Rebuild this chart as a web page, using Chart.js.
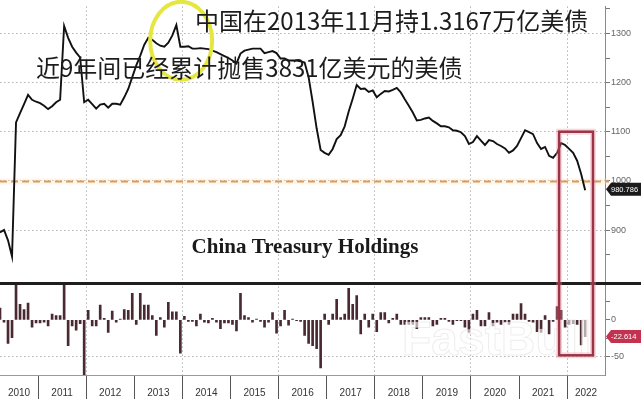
<!DOCTYPE html>
<html><head><meta charset="utf-8">
<script src="https://cdn.jsdelivr.net/npm/chart.js@4/dist/chart.umd.min.js"></script>
<style>html,body{margin:0;padding:0;background:#fff}#wrap{width:641px;height:399px;position:relative;overflow:hidden}canvas{display:block}</style>
</head><body><div id="wrap"><canvas id="c" width="641" height="399"></canvas></div>
<script>
// ---------- data ----------
const yearLabels = ['2010','2011','2012','2013','2014','2015','2016','2017','2018','2019','2020','2021','2022'];
const holdingsTicks = [900, 1000, 1100, 1200, 1300];
const holdingsMinor = [850, 950, 1050, 1150, 1250, 1350];
const changeTicks = [0, -50];
const changeMinor = [-25, 25];
const firstMonth = { year: 2010, month: 3 };
// China holdings of US Treasuries (USD bn), monthly from 2010-03
const holdings = [
  895, 900, 879, 846, 1119, 1138, 1156, 1175, 1165, 1161,
  1158, 1153, 1146, 1152, 1160, 1165, 1315, 1291, 1273, 1261,
  1251, 1160, 1165, 1156, 1147, 1155, 1157, 1149, 1157, 1157,
  1155, 1170, 1187, 1211, 1235, 1255, 1277, 1291, 1287, 1280,
  1275, 1273, 1281, 1296, 1317, 1273, 1273, 1274, 1269, 1269,
  1270, 1269, 1268, 1265, 1262, 1258, 1254, 1250, 1245, 1239,
  1259, 1265, 1267, 1269, 1269, 1269, 1260, 1262, 1264, 1260,
  1249, 1249, 1245, 1245, 1245, 1243, 1241, 1211, 1161, 1107,
  1063, 1057, 1053, 1065, 1085, 1093, 1111, 1141, 1167, 1195,
  1187, 1188, 1181, 1184, 1170, 1177, 1183, 1182, 1185, 1189,
  1180, 1166, 1153, 1139, 1123, 1124, 1127, 1129, 1122, 1117,
  1111, 1111, 1109, 1103, 1102, 1099, 1091, 1075, 1079, 1091,
  1082, 1073, 1083, 1081, 1075, 1071, 1066, 1057, 1062, 1071,
  1087, 1103, 1099, 1095, 1077, 1065, 1069, 1051, 1047, 1057,
  1077, 1073, 1065, 1057, 1041, 1014, 980.786
];
// monthly change bars (USD bn)
const changes = [
  16, -3, -32, -24, 55, 21, 14, 23, -10, -4,
  -4, -3, -8, 8, 6, 6, 55, -35, -8, -14,
  -5, -80, 13, -8, -8, 20, 2, -17, 12, -3,
  1, 14, 13, 36, -6, 36, 20, 20, 6, -21,
  3, -10, 24, 11, 11, -45, 5, -2, -2, -8,
  8, -3, -4, 2, -3, -12, -4, -4, -6, -15,
  36, 6, 3, -3, 1, -2, -10, -3, 10, -18,
  -8, 13, -7, 1, -1, -2, -21, -32, -35, -39,
  -65, 8, -6, 8, 28, 3, 8, 43, 21, 33,
  -19, 8, -10, 8, -16, 10, 10, -4, 2, 8,
  -6, -6, -6, -6, -12, 3, 3, 3, -8, -6,
  2, 2, -2, -6, -1, -1, -10, -17, 8, 13,
  -8, -8, 10, -8, -3, -6, -3, -6, 8, 8,
  22, 8, -2, -3, -16, -17, 6, -19, -2, 18,
  13, -10, -6, -5, -6, -34, -22.614
];
const refLevel = 1000;
const title1 = '中国在2013年11月持1.3167万亿美债';
const title2 = '近9年间已经累计抛售3831亿美元的美债';
const seriesName = 'China Treasury Holdings';
const peakMonth = '2013-11';
const highlightFrom = '2021-11', highlightTo = '2022-06';
const watermark = 'FastBull';

const months = [];
for (let k = 0; k < holdings.length; k++) {
  const m = firstMonth.month - 1 + k;
  months.push((firstMonth.year + Math.floor(m / 12)) + '-' + String(m % 12 + 1).padStart(2, '0'));
}
const baseYear = parseInt(yearLabels[0]);
const idx = (lab) => { const [Y, M] = lab.split('-').map(Number); return (Y - baseYear) * 12 + (M - 1); };

const xMin = 2.0, xMax = 152.95;
const xTicks = [];
yearLabels.forEach((yl, k) => {
  const start = k * 12 - 0.5, end = k * 12 + 11.5;
  if (start >= xMin && start <= xMax) xTicks.push({ value: start, kind: 'b', even: k % 2 === 0, text: '' });
  const a = Math.max(start, xMin), b = Math.min(end, xMax);
  xTicks.push({ value: (a + b) / 2, kind: 'm', text: yl });
});
xTicks.sort((p, q) => p.value - q.value);

const yTickVals = holdingsTicks.concat(holdingsMinor).sort((a, b) => a - b);
const ybTickVals = changeTicks.concat(changeMinor).sort((a, b) => a - b);

const overlay = {
  id: 'overlay',
  beforeDatasetsDraw(chart) {
    const { ctx, scales: { x, y } } = chart;
    const py = Math.round(y.getPixelForValue(refLevel)) + 0.5;
    ctx.save();
    ctx.strokeStyle = 'rgba(252,228,190,0.35)';
    ctx.lineWidth = 6;
    ctx.beginPath(); ctx.moveTo(0, py); ctx.lineTo(x.right + 4, py); ctx.stroke();
    ctx.strokeStyle = '#d99c5c';
    ctx.lineWidth = 2;
    ctx.setLineDash([7, 4]);
    ctx.beginPath(); ctx.moveTo(0, py); ctx.lineTo(x.right + 4, py); ctx.stroke();
    ctx.restore();
  },
  afterDraw(chart) {
    const { ctx, scales: { x, y, yb } } = chart;
    ctx.save();
    // panel separator
    ctx.strokeStyle = '#1e1e1e';
    ctx.lineWidth = 3;
    ctx.beginPath(); ctx.moveTo(0, yb.top + 1); ctx.lineTo(chart.width, yb.top + 1); ctx.stroke();

    // watermark
    ctx.font = 'bold 48px "Liberation Sans"';
    ctx.textBaseline = 'middle'; ctx.textAlign = 'left';
    ctx.fillStyle = 'rgba(255,255,255,0.6)';
    ctx.fillText(watermark, 402, 342);
    ctx.strokeStyle = 'rgba(175,175,175,0.22)'; ctx.lineWidth = 1;
    ctx.strokeText(watermark, 402, 342);

    // red highlight box
    const bx1 = x.getPixelForValue(idx(highlightFrom) - 0.5);
    const bx2 = x.getPixelForValue(idx(highlightTo) + 0.95);
    const by1 = y.getPixelForValue(1100);
    const by2 = yb.getPixelForValue(-48);
    ctx.strokeStyle = 'rgba(240,140,160,0.35)'; ctx.lineWidth = 6;
    ctx.strokeRect(bx1, by1, bx2 - bx1, by2 - by1);
    ctx.strokeStyle = '#9a3446'; ctx.lineWidth = 2.5;
    ctx.strokeRect(bx1, by1, bx2 - bx1, by2 - by1);

    // yellow ellipse around peak
    const pk = holdings[months.indexOf(peakMonth)];
    const ex = x.getPixelForValue(idx(peakMonth) + 1.2), ey = y.getPixelForValue(pk - 32);
    ctx.strokeStyle = '#e6e640'; ctx.lineWidth = 4;
    ctx.beginPath(); ctx.ellipse(ex, ey, 31, 39, 0, 0, Math.PI * 2); ctx.stroke();

    // Chinese titles
    ctx.fillStyle = '#1c1c1c';
    ctx.font = '24px "Noto Sans CJK SC"';
    ctx.textAlign = 'left'; ctx.textBaseline = 'middle';
    ctx.fillText(title1, 195, 21);
    ctx.fillText(title2, 36, 68);

    // series name
    ctx.font = 'bold 21px "Liberation Serif"';
    ctx.textAlign = 'center';
    ctx.fillStyle = '#1a1a1a';
    ctx.fillText(seriesName, 305, 248);

    // value tags
    const tag = (cy, fill, text) => {
      const lx = x.right + 1, rx = chart.width;
      ctx.fillStyle = fill;
      ctx.beginPath();
      ctx.moveTo(lx, cy); ctx.lineTo(lx + 5, cy - 6.5); ctx.lineTo(rx, cy - 6.5);
      ctx.lineTo(rx, cy + 6.5); ctx.lineTo(lx + 5, cy + 6.5); ctx.closePath(); ctx.fill();
      ctx.fillStyle = '#fff';
      ctx.font = '7.5px "Liberation Sans"';
      ctx.textAlign = 'left'; ctx.textBaseline = 'middle';
      ctx.fillText(text, lx + 5, cy + 0.5);
    };
    const lastH = holdings[holdings.length - 1];
    const lastC = changes[changes.length - 1];
    tag(y.getPixelForValue(lastH) - 1, '#1b1b1b', lastH.toFixed(3));
    tag(yb.getPixelForValue(lastC), '#c33350', lastC.toFixed(3));
    ctx.restore();
  }
};

const dotted = [1.5, 2.5];
const gridGray = '#b4b4b4';
new Chart(document.getElementById('c'), {
  type: 'bar',
  data: {
    datasets: [
      {
        type: 'line', label: seriesName,
        data: months.map((m, k) => ({ x: idx(m), y: holdings[k] })),
        xAxisID: 'x', yAxisID: 'y',
        borderColor: '#111', borderWidth: 1.9, pointRadius: 0, tension: 0, order: 1
      },
      {
        type: 'bar', label: 'Monthly change',
        data: months.map((m, k) => ({ x: idx(m), y: changes[k] })),
        xAxisID: 'x', yAxisID: 'yb',
        backgroundColor: '#4a2a32', barThickness: 2, order: 2
      }
    ]
  },
  options: {
    responsive: false, animation: false, devicePixelRatio: 1,
    layout: { padding: 0 },
    plugins: { legend: { display: false }, tooltip: { enabled: false } },
    scales: {
      x: {
        type: 'linear', position: 'bottom', min: xMin, max: xMax, offset: false,
        afterBuildTicks: (s) => { s.ticks = xTicks.map(t => ({ value: t.value })); },
        afterFit: (s) => { s.height = 24; },
        border: { display: true, color: '#9a9a9a', width: 1, dash: dotted },
        grid: {
          offset: false, drawOnChartArea: true, drawTicks: true, tickLength: 24,
          lineWidth: 1,
          color: (c) => { const t = xTicks[c.index]; return t && t.kind === 'b' && t.even ? gridGray : 'rgba(0,0,0,0)'; },
          tickColor: (c) => { const t = xTicks[c.index]; return t && t.kind === 'b' ? '#555' : 'rgba(0,0,0,0)'; },
          tickBorderDash: [], tickWidth: 1
        },
        ticks: {
          autoSkip: false, maxRotation: 0, minRotation: 0, padding: -12,
          color: '#333', font: { family: 'Liberation Sans', size: 10 },
          callback: (v, i) => (xTicks[i] ? xTicks[i].text : '')
        }
      },
      y: {
        type: 'linear', position: 'right', stack: 'v', stackWeight: 281,
        min: 793, max: 1355,
        afterBuildTicks: (s) => { s.ticks = yTickVals.map(v => ({ value: v })); },
        afterFit: (s) => { s.width = 36; },
        border: { display: true, color: '#8a8a8a', width: 1, dash: dotted },
        grid: {
          drawOnChartArea: true, drawTicks: true, tickLength: 5, lineWidth: 1,
          color: (c) => (c.tick && holdingsTicks.includes(c.tick.value) ? gridGray : 'rgba(0,0,0,0)'),
          tickColor: '#777', tickBorderDash: []
        },
        ticks: {
          padding: 1, color: '#666', font: { family: 'Liberation Sans', size: 9 },
          callback: (v) => (holdingsTicks.includes(v) ? String(v) : '')
        }
      },
      yb: {
        type: 'linear', position: 'right', stack: 'v', stackWeight: 94,
        min: -74.7, max: 50.6,
        afterBuildTicks: (s) => { s.ticks = ybTickVals.map(v => ({ value: v })); },
        afterFit: (s) => { s.width = 36; },
        border: { display: true, color: '#8a8a8a', width: 1, dash: dotted },
        grid: {
          drawOnChartArea: true, drawTicks: true, tickLength: 5, lineWidth: 1,
          color: (c) => (c.tick && c.tick.value === -50 ? gridGray : 'rgba(0,0,0,0)'),
          tickColor: '#777', tickBorderDash: []
        },
        ticks: {
          padding: 1, color: '#666', font: { family: 'Liberation Sans', size: 9 },
          callback: (v) => (changeTicks.includes(v) ? String(v) : '')
        }
      }
    }
  },
  plugins: [overlay]
});
</script>
</body></html>
